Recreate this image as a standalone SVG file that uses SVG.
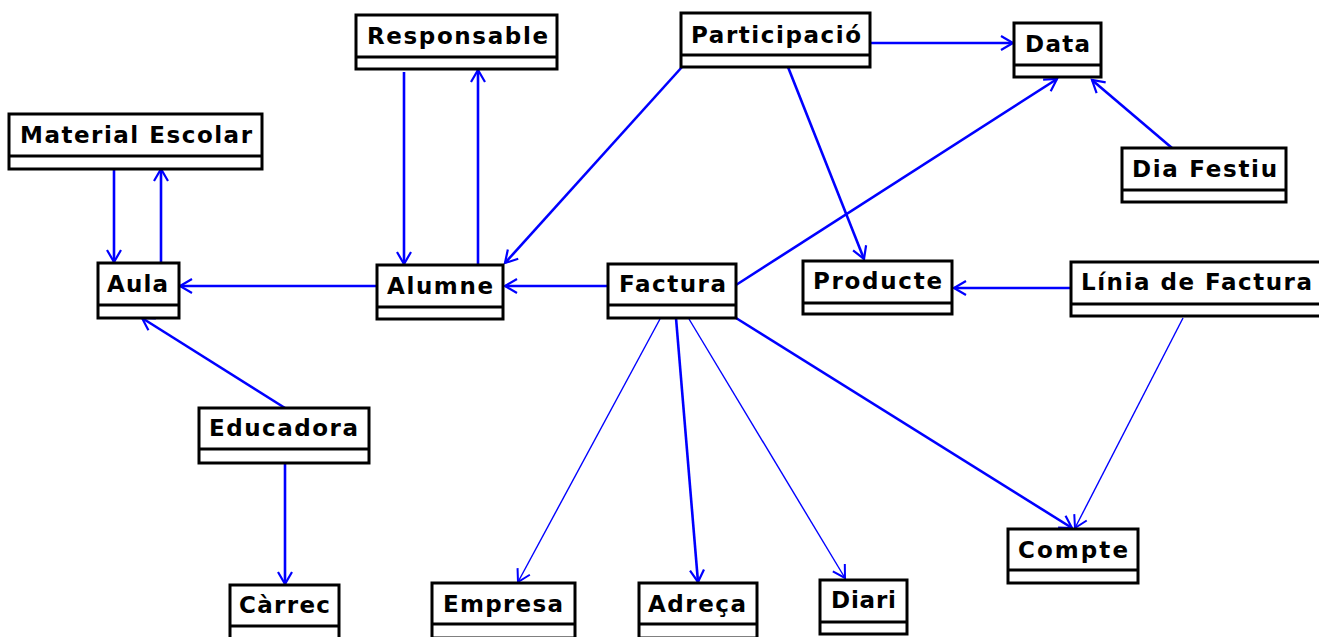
<svg xmlns="http://www.w3.org/2000/svg" width="1319" height="637" viewBox="0 0 1319 637">
  <style>
    .box { fill: #ffffff; stroke: #000000; stroke-width: 3; }
    .sep { stroke: #000000; stroke-width: 3; }
    .name { font-family: "DejaVu Sans", "Liberation Sans", sans-serif; font-weight: bold; font-size: 23px; fill: #000000; }
    .assoc { stroke: #0000ff; stroke-width: 2.6; fill: none; marker-end: url(#open); }
    .assoc.thin { stroke-width: 1.4; marker-end: url(#openThin); }
  </style>
  <defs>
    <marker id="open" viewBox="-15 -9 18 18" markerWidth="18" markerHeight="18" refX="0" refY="0" orient="auto" markerUnits="userSpaceOnUse" overflow="visible">
      <path d="M-12,-7 L0,0 L-12,7" fill="none" stroke="#0000ff" stroke-width="2.2"/>
    </marker>
    <marker id="openThin" viewBox="-15 -9 18 18" markerWidth="18" markerHeight="18" refX="0" refY="0" orient="auto" markerUnits="userSpaceOnUse" overflow="visible">
      <path d="M-12,-7 L0,0 L-12,7" fill="none" stroke="#0000ff" stroke-width="2"/>
    </marker>
  </defs>

  <rect width="1319" height="637" fill="#ffffff"/>

  <!-- associations -->
  <g id="connectors">
    <line class="assoc" x1="114" y1="170" x2="114" y2="262"/>
    <line class="assoc" x1="161" y1="263" x2="161" y2="169"/>
    <line class="assoc" x1="377" y1="286" x2="180" y2="286"/>
    <line class="assoc" x1="404" y1="72" x2="404" y2="264"/>
    <line class="assoc" x1="478" y1="265" x2="478" y2="70"/>
    <line class="assoc" x1="682" y1="67" x2="505" y2="263"/>
    <line class="assoc" x1="608" y1="286" x2="505" y2="286"/>
    <line class="assoc" x1="788" y1="67" x2="864" y2="259"/>
    <line class="assoc" x1="870" y1="43" x2="1013" y2="43"/>
    <line class="assoc" x1="736" y1="285" x2="1057" y2="79"/>
    <line class="assoc" x1="1172" y1="148" x2="1092" y2="80"/>
    <line class="assoc" x1="1071" y1="288" x2="954" y2="288"/>
    <line class="assoc" x1="285" y1="408" x2="142" y2="318"/>
    <line class="assoc" x1="285" y1="463" x2="285" y2="584"/>
    <line class="assoc thin" x1="660" y1="319" x2="518" y2="582"/>
    <line class="assoc" x1="676" y1="318" x2="698" y2="582"/>
    <line class="assoc thin" x1="689" y1="319" x2="845" y2="578"/>
    <line class="assoc" x1="736" y1="318" x2="1072" y2="528"/>
    <line class="assoc thin" x1="1183" y1="318" x2="1075" y2="528"/>
  </g>

  <!-- classes -->
  <g id="material-escolar">
    <rect class="box" x="9" y="114" width="253" height="55"/>
    <line class="sep" x1="9" y1="156" x2="262" y2="156"/>
    <text class="name" x="20" y="143" textLength="232" lengthAdjust="spacing">Material Escolar</text>
  </g>
  <g id="responsable">
    <rect class="box" x="356" y="15" width="201" height="54"/>
    <line class="sep" x1="356" y1="57" x2="557" y2="57"/>
    <text class="name" x="367" y="44" textLength="181" lengthAdjust="spacing">Responsable</text>
  </g>
  <g id="aula">
    <rect class="box" x="98" y="263" width="81" height="55"/>
    <line class="sep" x1="98" y1="305" x2="179" y2="305"/>
    <text class="name" x="107" y="292" textLength="61" lengthAdjust="spacing">Aula</text>
  </g>
  <g id="alumne">
    <rect class="box" x="377" y="265" width="126" height="54"/>
    <line class="sep" x1="377" y1="307" x2="503" y2="307"/>
    <text class="name" x="387" y="294" textLength="106" lengthAdjust="spacing">Alumne</text>
  </g>
  <g id="participacio">
    <rect class="box" x="681" y="13" width="189" height="54"/>
    <line class="sep" x1="681" y1="55" x2="870" y2="55"/>
    <text class="name" x="691" y="43" textLength="170" lengthAdjust="spacing">Participació</text>
  </g>
  <g id="factura">
    <rect class="box" x="608" y="264" width="128" height="54"/>
    <line class="sep" x1="608" y1="305" x2="736" y2="305"/>
    <text class="name" x="619" y="292" textLength="107" lengthAdjust="spacing">Factura</text>
  </g>
  <g id="producte">
    <rect class="box" x="803" y="261" width="149" height="53"/>
    <line class="sep" x1="803" y1="303" x2="952" y2="303"/>
    <text class="name" x="813" y="289" textLength="129" lengthAdjust="spacing">Producte</text>
  </g>
  <g id="data">
    <rect class="box" x="1014" y="23" width="87" height="54"/>
    <line class="sep" x1="1014" y1="65" x2="1101" y2="65"/>
    <text class="name" x="1025" y="52" textLength="65" lengthAdjust="spacing">Data</text>
  </g>
  <g id="dia-festiu">
    <rect class="box" x="1122" y="148" width="164" height="54"/>
    <line class="sep" x1="1122" y1="190" x2="1286" y2="190"/>
    <text class="name" x="1132" y="177" textLength="145" lengthAdjust="spacing">Dia Festiu</text>
  </g>
  <g id="linia-de-factura">
    <rect class="box" x="1071" y="262" width="252" height="54"/>
    <line class="sep" x1="1071" y1="304" x2="1323" y2="304"/>
    <text class="name" x="1081" y="290" textLength="231" lengthAdjust="spacing">Línia de Factura</text>
  </g>
  <g id="educadora">
    <rect class="box" x="199" y="408" width="170" height="55"/>
    <line class="sep" x1="199" y1="449" x2="369" y2="449"/>
    <text class="name" x="209" y="436" textLength="149" lengthAdjust="spacing">Educadora</text>
  </g>
  <g id="carrec">
    <rect class="box" x="230" y="585" width="109" height="55"/>
    <line class="sep" x1="230" y1="626" x2="339" y2="626"/>
    <text class="name" x="239" y="613" textLength="91" lengthAdjust="spacing">Càrrec</text>
  </g>
  <g id="empresa">
    <rect class="box" x="432" y="583" width="143" height="55"/>
    <line class="sep" x1="432" y1="624" x2="575" y2="624"/>
    <text class="name" x="443" y="612" textLength="120" lengthAdjust="spacing">Empresa</text>
  </g>
  <g id="adreca">
    <rect class="box" x="639" y="583" width="118" height="55"/>
    <line class="sep" x1="639" y1="624" x2="757" y2="624"/>
    <text class="name" x="648" y="612" textLength="98" lengthAdjust="spacing">Adreça</text>
  </g>
  <g id="diari">
    <rect class="box" x="820" y="580" width="87" height="54"/>
    <line class="sep" x1="820" y1="622" x2="907" y2="622"/>
    <text class="name" x="831" y="608" textLength="65" lengthAdjust="spacing">Diari</text>
  </g>
  <g id="compte">
    <rect class="box" x="1008" y="529" width="130" height="54"/>
    <line class="sep" x1="1008" y1="570" x2="1138" y2="570"/>
    <text class="name" x="1018" y="558" textLength="110" lengthAdjust="spacing">Compte</text>
  </g>
</svg>
